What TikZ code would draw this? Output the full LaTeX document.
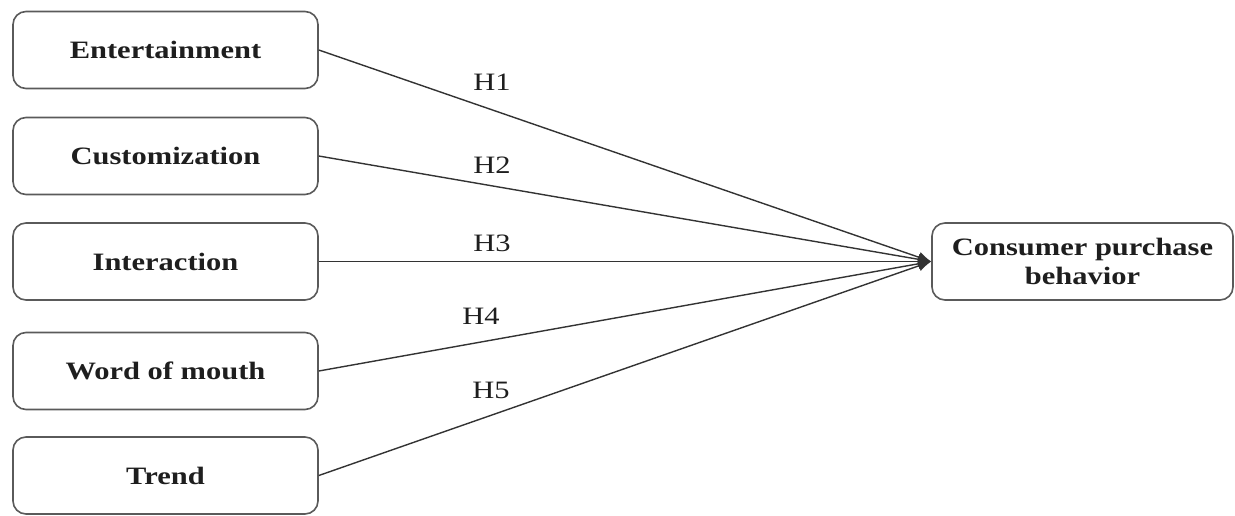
\documentclass[tikz,border=0pt]{standalone}
\usepackage{fontspec}
\setmainfont{Liberation Serif}[FakeStretch=1.22]
\usetikzlibrary{arrows.meta}
\definecolor{boxline}{HTML}{5A5A5A}
\definecolor{txt}{HTML}{1E1E1E}
\definecolor{conn}{HTML}{333333}
\tikzset{
  varbox/.style={draw=boxline, line width=1.6pt, rounded corners=13pt, fill=white,
    minimum width=305pt, minimum height=77pt, inner sep=0pt, align=center,
    font=\fontsize{25}{29}\selectfont\bfseries, text=txt},
  hyp/.style={font=\fontsize{25}{21}\selectfont, text=txt, inner sep=0pt},
  conn/.style={draw=conn, line width=1.4pt, -{Latex[length=13pt,width=11pt]}}
}
\begin{document}
\begin{tikzpicture}[x=1pt,y=-1pt]
\useasboundingbox (0,0) rectangle (1235,515);
\node[varbox] (ent) at (165.5,50) {Entertainment};
\node[varbox] (cus) at (165.5,156) {Customization};
\node[varbox] (int) at (165.5,261.5) {Interaction};
\node[varbox] (wom) at (165.5,371) {Word of mouth};
\node[varbox] (tre) at (165.5,475.5) {Trend};
\node[varbox, minimum width=301pt] (cpb) at (1082.5,261.5) {Consumer purchase\\behavior};
\draw[conn] (ent.east) -- (cpb.west);
\draw[conn] (cus.east) -- (cpb.west);
\draw[conn] (int.east) -- (cpb.west);
\draw[conn] (wom.east) -- (cpb.west);
\draw[conn] (tre.east) -- (cpb.west);
\node[hyp] (h1) at (492,82) {H1};
\node[hyp] (h2) at (492,165) {H2};
\node[hyp] (h3) at (492,243) {H3};
\node[hyp] (h4) at (481,316) {H4};
\node[hyp] (h5) at (491,390) {H5};
\end{tikzpicture}
\end{document}
